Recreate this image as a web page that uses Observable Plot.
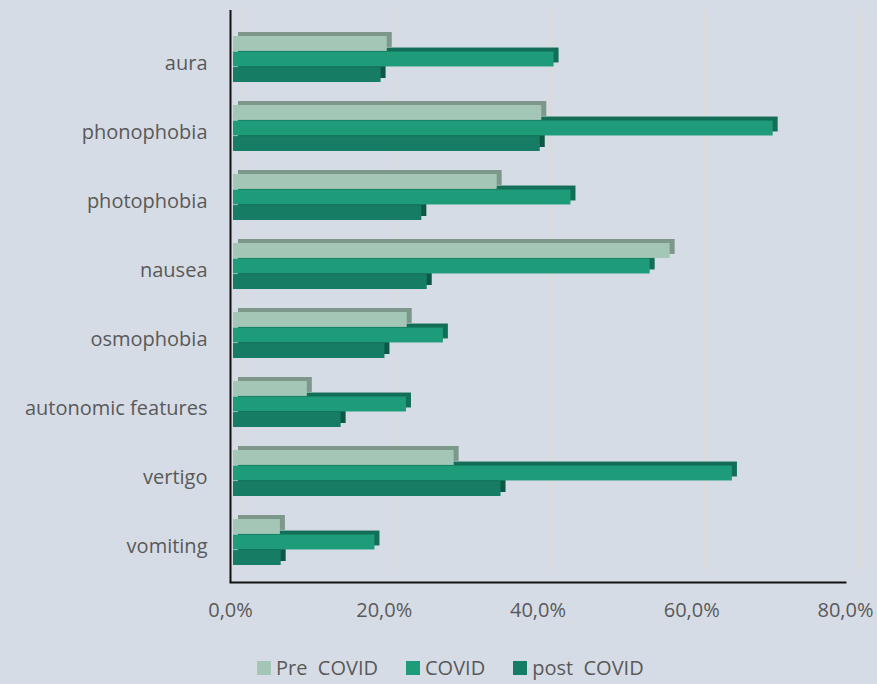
<!DOCTYPE html>
<html>
<head>
<meta charset="utf-8">
<script src="https://cdn.jsdelivr.net/npm/d3@7"></script>
<script src="https://cdn.jsdelivr.net/npm/@observablehq/plot@0.6"></script>
<style>
  html, body { margin: 0; padding: 0; background: #D6DCE5; }
  body { width: 877px; height: 684px; overflow: hidden; font-family: "Open Sans", sans-serif; }
  #chart svg { display: block; }
  #legend { display: flex; align-items: center; padding-left: 257px; margin-top: 14px; font-size: 20px; color: #595959; white-space: pre; }
  .item { display: flex; align-items: center; margin-right: 28px; }
  .sw { width: 14px; height: 14px; margin-right: 5px; }
</style>
</head>
<body>
<div id="chart"></div>
<div id="legend"></div>
<script>
const categories = ["aura", "phonophobia", "photophobia", "nausea", "osmophobia", "autonomic features", "vertigo", "vomiting"];
const series = ["Pre  COVID", "COVID", "post  COVID"];
const preCovid  = [20.0, 40.1, 34.3, 56.8, 22.6, 9.6, 28.7, 6.1];
const covid     = [41.7, 70.2, 43.9, 54.2, 27.3, 22.5, 64.9, 18.4];
const postCovid = [19.2, 39.9, 24.5, 25.2, 19.7, 14.0, 34.8, 6.2];
const xTicks = [0, 20, 40, 60, 80];

const faceColors = ["#A3C6B7", "#1E9B79", "#167C64"];
const depthColors = ["#7E978B", "#126E56", "#0D5844"];

const seriesValues = [preCovid, covid, postCovid];
const data = series.map((s, i) => categories.map((c, j) => ({symptom: c, series: s, value: seriesValues[i][j], idx: i}))).flat();

const W = 877, H = 640, mTop = 10, mBottom = 58;
const pInner = 0.331, pOuter = 0.27;
const step = (H - mTop - mBottom) / (categories.length - pInner + 2 * pOuter);
const bw = step * (1 - pInner);
const sub = bw / 3;
const insets = i => ({insetTop: i * sub, insetBottom: (2 - i) * sub});

const depthMarks = series.map((s, i) => Plot.barX(data.filter(d => d.idx === i), {
  x: "value", y: "symptom", fill: depthColors[i], dx: 8, dy: -4, ...insets(i)
}));
const faceMarks = series.map((s, i) => Plot.barX(data.filter(d => d.idx === i), {
  x: "value", y: "symptom", fill: faceColors[i], dx: 3, ...insets(i)
})).reverse();

const chart = Plot.plot({
  width: W, height: H,
  marginLeft: 230, marginRight: 32, marginTop: mTop, marginBottom: mBottom,
  style: {background: "transparent", fontFamily: "'Open Sans', sans-serif", fontSize: "20px", color: "#595959"},
  x: {domain: [0, 80], label: null},
  y: {domain: categories, paddingInner: pInner, paddingOuter: pOuter, align: 0.6, label: null},
  marks: [
    Plot.ruleX(xTicks, {dx: 13, stroke: "#DEDAD4", strokeWidth: 1.5, insetBottom: 12}),
    ...depthMarks,
    ...faceMarks,
    Plot.ruleX([0], {stroke: "#111", strokeWidth: 2}),
    Plot.frame({anchor: "bottom", stroke: "#111", strokeWidth: 2}),
    Plot.axisX({ticks: xTicks, tickFormat: d => d.toFixed(1).replace(".", ",") + "%", tickSize: 0, tickPadding: 20, label: null}),
    Plot.axisY({tickSize: 0, tickPadding: 23, dy: 4, label: null})
  ]
});
document.getElementById("chart").appendChild(chart);

const legend = document.getElementById("legend");
series.forEach((s, i) => {
  const item = document.createElement("div");
  item.className = "item";
  const sw = document.createElement("span");
  sw.className = "sw";
  sw.style.background = faceColors[i];
  const t = document.createElement("span");
  t.textContent = s;
  item.appendChild(sw); item.appendChild(t);
  legend.appendChild(item);
});
</script>
</body>
</html>
